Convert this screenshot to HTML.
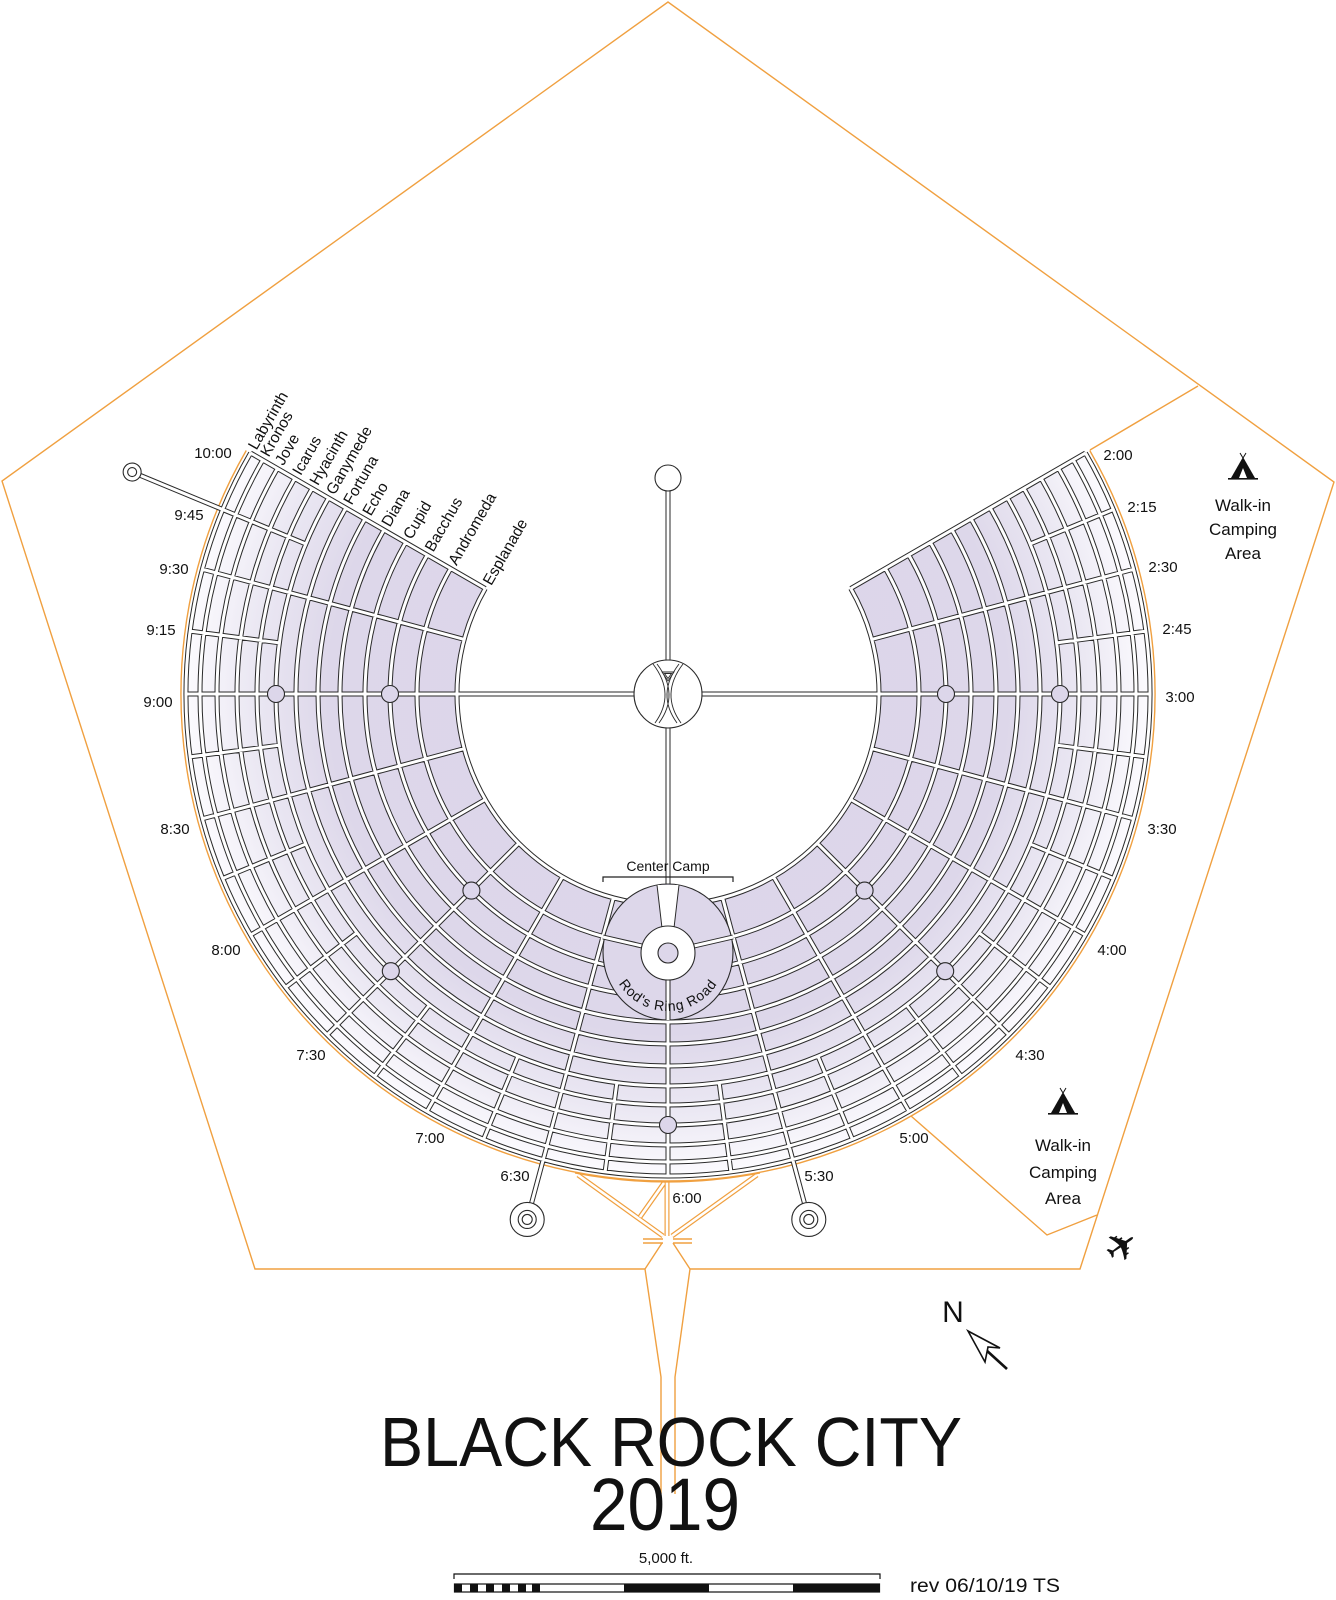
<!DOCTYPE html>
<html><head><meta charset="utf-8"><style>
html,body{margin:0;padding:0;background:#fff;}
svg{display:block;}
text{font-family:"Liberation Sans",sans-serif;fill:#111;}
</style></head><body>
<svg id="s" width="1336" height="1600" viewBox="0 0 1336 1600" xmlns="http://www.w3.org/2000/svg">
<defs>
<radialGradient id="lg" gradientUnits="userSpaceOnUse" cx="668" cy="694" r="486">
<stop offset="0" stop-color="#dcd5ea"/>
<stop offset="0.70" stop-color="#ddd7ea"/>
<stop offset="0.86" stop-color="#ebe8f3"/>
<stop offset="1" stop-color="#fdfcff"/>
</radialGradient>
</defs>
<path d="M645 1269 L255 1269 L2 481 L668 2 L1334 482 L1080 1269 L690 1269" fill="none" stroke="#f0a040" stroke-width="1.4"/>
<g fill="none" stroke="#f0a040" stroke-width="1.4">
<path d="M1090 450 L1198 386"/>
<path d="M911 1116 L1047 1235 L1097 1215"/>
<path d="M662 1243 L645 1269 L661 1377 L661 1494"/>
<path d="M673 1243 L690 1269 L675 1377 L675 1494"/>
<path d="M643 1239 H663 M643 1243 H663 M673 1239 H692 M673 1243 H692"/>
</g>
<g id="orng" fill="none"></g>
<path id="blocks" fill="url(#lg)" stroke="none"/>
<g id="st" fill="none" stroke-linecap="butt"></g>
<g id="plz"></g>
<ellipse cx="668" cy="952" rx="65" ry="68" fill="#ddd7ea" stroke="#2a2a2a" stroke-width="1.1"/>
<g fill="none">
<path d="M603 937 L642 946 M733 937 L694 946 M668 975 L668 1020" stroke="#2a2a2a" stroke-width="5"/>
<path d="M603 937 L642 946 M733 937 L694 946 M668 975 L668 1020" stroke="#fff" stroke-width="3"/>
</g>
<polygon points="657,885 679,885 674,928 662,928" fill="#fff"/>
<path d="M657 885 L662 928 M679 885 L674 928" stroke="#2a2a2a" stroke-width="1" fill="none"/>
<circle cx="668" cy="953" r="27" fill="#fff" stroke="#2a2a2a" stroke-width="1.1"/>
<circle cx="668" cy="953" r="10" fill="#ddd7ea" stroke="#2a2a2a" stroke-width="1.1"/>
<path id="rrr" d="M610 953 A58 58 0 0 0 726 953" fill="none"/>
<text font-size="14" letter-spacing="0.8"><textPath href="#rrr" startOffset="50%" text-anchor="middle">Rod's Ring Road</textPath></text>
<text x="668" y="871" font-size="14" text-anchor="middle">Center Camp</text>
<path d="M603 882 V877 H733 V882" fill="none" stroke="#222" stroke-width="1.2"/>
<circle cx="668" cy="478" r="13" fill="#fff" stroke="#2a2a2a" stroke-width="1.1"/>
<circle cx="668" cy="694" r="34" fill="#fff" stroke="#2a2a2a" stroke-width="1.1"/>
<g fill="none" stroke="#2a2a2a" stroke-width="0.9">
<path d="M653 664 Q676 694 655 723 M657 664 Q680 694 659 723"/>
<path d="M683 664 Q660 694 681 723 M679 664 Q656 694 677 723"/>
<path d="M662 672 L674 672 L668 681 Z M664.5 673.5 L671.5 673.5 L668 678.5 Z"/>
</g>
<g font-size="15" text-anchor="middle">
<text x="213" y="458">10:00</text>
<text x="189" y="520">9:45</text>
<text x="174" y="574">9:30</text>
<text x="161" y="635">9:15</text>
<text x="158" y="707">9:00</text>
<text x="175" y="834">8:30</text>
<text x="226" y="955">8:00</text>
<text x="311" y="1060">7:30</text>
<text x="430" y="1143">7:00</text>
<text x="515" y="1181">6:30</text>
<text x="687" y="1203">6:00</text>
<text x="819" y="1181">5:30</text>
<text x="914" y="1143">5:00</text>
<text x="1030" y="1060">4:30</text>
<text x="1112" y="955">4:00</text>
<text x="1162" y="834">3:30</text>
<text x="1180" y="702">3:00</text>
<text x="1177" y="634">2:45</text>
<text x="1163" y="572">2:30</text>
<text x="1142" y="512">2:15</text>
<text x="1118" y="460">2:00</text>
</g>
<g font-size="15.5">
<text transform="translate(256.5,450.7) rotate(-60)">Labyrinth</text>
<text transform="translate(268.7,457.7) rotate(-60)">Kronos</text>
<text transform="translate(283.4,466.2) rotate(-60)">Jove</text>
<text transform="translate(300.7,476.2) rotate(-60)">Icarus</text>
<text transform="translate(318,486.2) rotate(-60)">Hyacinth</text>
<text transform="translate(334.5,495.7) rotate(-60)">Ganymede</text>
<text transform="translate(351.8,505.7) rotate(-60)">Fortuna</text>
<text transform="translate(370.9,516.7) rotate(-60)">Echo</text>
<text transform="translate(389.9,527.7) rotate(-60)">Diana</text>
<text transform="translate(411.6,540.2) rotate(-60)">Cupid</text>
<text transform="translate(433.2,552.7) rotate(-60)">Bacchus</text>
<text transform="translate(456.6,566.2) rotate(-60)">Andromeda</text>
<text transform="translate(491.2,586.2) rotate(-60)">Esplanade</text>
</g>
<g font-size="17" text-anchor="middle">
<text x="1243" y="511">Walk-in</text>
<text x="1243" y="535">Camping</text>
<text x="1243" y="559">Area</text>
<text x="1063" y="1151">Walk-in</text>
<text x="1063" y="1178">Camping</text>
<text x="1063" y="1204">Area</text>
</g>
<g fill="#111">
<path d="M1243 457 L1231 478 L1255 478 Z"/><path d="M1240 453 L1243 458 L1246 453" stroke="#111" stroke-width="1" fill="none"/>
<path d="M1243 468 L1239 478 L1247 478 Z" fill="#fff"/><rect x="1228" y="478" width="30" height="1.6"/>
<path d="M1063 1092 L1051 1113 L1075 1113 Z"/><path d="M1060 1088 L1063 1093 L1066 1088" stroke="#111" stroke-width="1" fill="none"/>
<path d="M1063 1103 L1059 1113 L1067 1113 Z" fill="#fff"/><rect x="1048" y="1113" width="30" height="1.6"/>
</g>
<text x="1122" y="1260" font-size="40" text-anchor="middle" transform="rotate(-35 1122 1247)" style="font-family:'DejaVu Sans',sans-serif">✈</text>
<text x="953" y="1322" font-size="30" text-anchor="middle">N</text>
<path d="M985 1349 L1007 1369" stroke="#111" stroke-width="2.6"/>
<path d="M968 1331 L1000 1348 L988 1347 L985 1362 Z" fill="#fff" stroke="#111" stroke-width="1.6"/>
<text x="380" y="1466" font-size="70" textLength="582" lengthAdjust="spacingAndGlyphs">BLACK ROCK CITY</text>
<text x="590" y="1530" font-size="74" textLength="150" lengthAdjust="spacingAndGlyphs">2019</text>
<text x="666" y="1563" font-size="15" text-anchor="middle">5,000 ft.</text>
<path d="M454 1579 V1574 H880 V1579" fill="none" stroke="#111" stroke-width="1.2"/>
<rect x="454.5" y="1584" width="425" height="8" fill="#fff" stroke="#111" stroke-width="1.2"/>
<g fill="#111">
<rect x="454" y="1584" width="8" height="8"/><rect x="470" y="1584" width="8" height="8"/>
<rect x="486" y="1584" width="8" height="8"/><rect x="502" y="1584" width="8" height="8"/>
<rect x="518" y="1584" width="8" height="8"/><rect x="532" y="1584" width="8" height="8"/>
<rect x="624" y="1584" width="85" height="8"/><rect x="793" y="1584" width="87" height="8"/>
</g>
<text x="910" y="1592" font-size="19" textLength="150" lengthAdjust="spacingAndGlyphs">rev 06/10/19 TS</text>
</svg>
<script>
(function(){
var cx=668,cy=694,NS="http://www.w3.org/2000/svg";
function P(t,r){var a=t*Math.PI/6;return [cx+r*Math.sin(a),cy-r*Math.cos(a)];}
function arc(r,t1,t2,sw){var a=P(t1,r),b=P(t2,r);var large=Math.abs(t2-t1)>6?1:0;return "M"+a[0].toFixed(2)+" "+a[1].toFixed(2)+"A"+r+" "+r+" 0 "+large+" "+(sw===undefined?1:sw)+" "+b[0].toFixed(2)+" "+b[1].toFixed(2);}
function seg(t,r1,r2){var a=P(t,r1),b=P(t,r2);return "M"+a[0].toFixed(2)+" "+a[1].toFixed(2)+"L"+b[0].toFixed(2)+" "+b[1].toFixed(2);}
function el(tag,attrs,parent){var e=document.createElementNS(NS,tag);for(var k in attrs)e.setAttribute(k,attrs[k]);parent.appendChild(e);return e;}
var o1=P(2,484),o2=P(10,484),i1=P(10,209),i2=P(2,209);
document.getElementById("blocks").setAttribute("d","M"+o1+"A484 484 0 1 1 "+o2+"L"+i1+"A209 209 0 1 0 "+i2+"Z");
var og=document.getElementById("orng");
el("path",{d:arc(487,2,10),stroke:"#f0a040","stroke-width":1.4},og);
var od="M578 1175 L663 1236 M664 1183 L640 1217 M757 1175 L672 1236 M667 1182 L667 1236";
el("path",{d:od,stroke:"#f0a040","stroke-width":5},og);
el("path",{d:od,stroke:"#fff","stroke-width":2.6},og);
el("path",{d:"M575 1173 A487 487 0 0 0 760 1173",stroke:"#f0a040","stroke-width":1.4},og);
var rings=[211,251,278,303,328,350,372,392,411,431,451,468,482];
var d="";
rings.forEach(function(r){d+=arc(r,2,10);});
for(var t=2;t<=10.001;t+=0.5)d+=seg(t,211,482);
for(var t=2.25;t<9.9;t+=0.5)d+=seg(t,392,482);
d+=seg(9.75,482,571)+seg(6.5,482,527)+seg(5.5,482,527);
d+=seg(0,34,203)+seg(3,34,211)+seg(9,34,211)+seg(6,34,190);
var g=document.getElementById("st");
el("path",{d:d,stroke:"#2a2a2a","stroke-width":5},g);
el("path",{d:d,stroke:"#fff","stroke-width":3},g);
var pg=document.getElementById("plz");
[[3,278],[3,392],[9,278],[9,392],[4.5,278],[4.5,392],[7.5,278],[7.5,392],[6,431]].forEach(function(p){var c=P(p[0],p[1]);
el("circle",{cx:c[0],cy:c[1],r:8.5,fill:"#dcd6ea",stroke:"#2a2a2a","stroke-width":1.1},pg);});
[[6.5,544],[5.5,544]].forEach(function(p){var c=P(p[0],p[1]);
el("circle",{cx:c[0],cy:c[1],r:17,fill:"#fff",stroke:"#2a2a2a","stroke-width":1.1},pg);
el("circle",{cx:c[0],cy:c[1],r:9,fill:"#fff",stroke:"#2a2a2a","stroke-width":1.1},pg);
el("circle",{cx:c[0],cy:c[1],r:5,fill:"#fff",stroke:"#2a2a2a","stroke-width":1.1},pg);});
var c=P(9.75,580);
el("circle",{cx:c[0],cy:c[1],r:9,fill:"#fff",stroke:"#2a2a2a","stroke-width":1.1},pg);
el("circle",{cx:c[0],cy:c[1],r:4.5,fill:"#fff",stroke:"#2a2a2a","stroke-width":1.1},pg);
})();
</script>
</body></html>
